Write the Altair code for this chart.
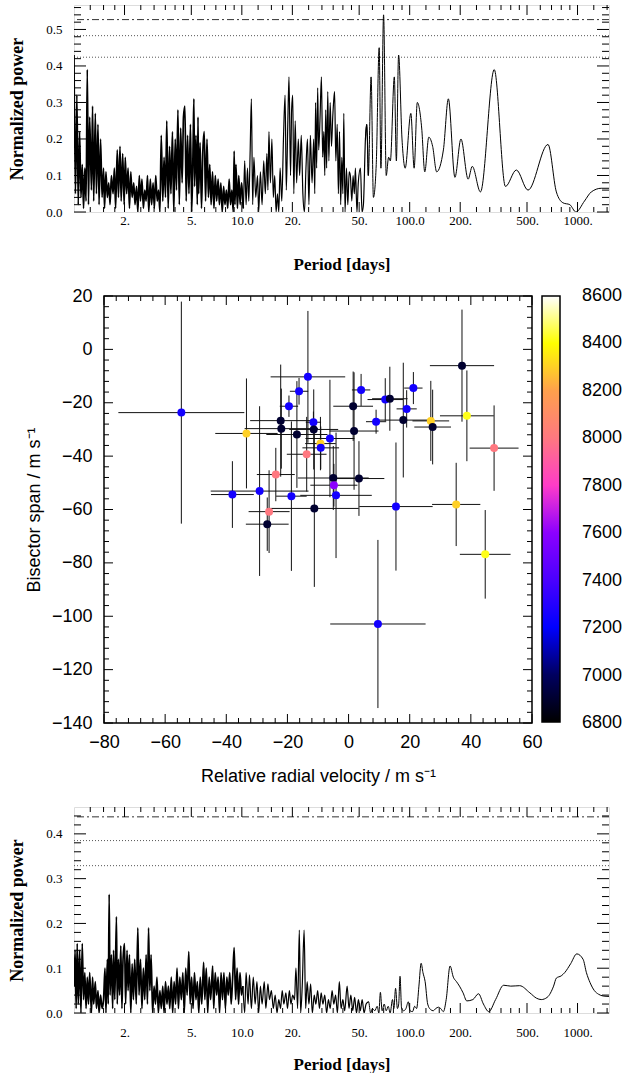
import altair as alt
import pandas as pd

# ---------------- periodogram of the radial velocities (top) ----------------
top_period = [
    1.00, 1.02, 1.04, 1.06, 1.08, 1.10, 1.12, 1.14, 1.16, 1.18, 1.20, 1.22, 1.24, 1.27, 1.29, 1.31,
    1.34, 1.36, 1.39, 1.41, 1.44, 1.47, 1.50, 1.52, 1.55, 1.58, 1.61, 1.64, 1.67, 1.71, 1.74, 1.77,
    1.81, 1.84, 1.88, 1.91, 1.95, 1.99, 2.02, 2.06, 2.10, 2.14, 2.18, 2.22, 2.27, 2.31, 2.36, 2.40,
    2.45, 2.49, 2.54, 2.59, 2.64, 2.69, 2.74, 2.79, 2.85, 2.90, 2.96, 3.01, 3.07, 3.13, 3.19, 3.25,
    3.31, 3.38, 3.44, 3.51, 3.57, 3.64, 3.71, 3.78, 3.86, 3.93, 4.01, 4.08, 4.16, 4.24, 4.32, 4.41,
    4.49, 4.58, 4.66, 4.75, 4.84, 4.94, 5.03, 5.13, 5.18, 5.23, 5.33, 5.43, 5.48, 5.53, 5.64, 5.75,
    5.86, 5.97, 6.08, 6.20, 6.32, 6.44, 6.56, 6.69, 6.82, 6.95, 7.08, 7.22, 7.35, 7.50, 7.64, 7.79,
    7.93, 8.09, 8.24, 8.40, 8.56, 8.72, 8.89, 9.00, 9.10, 9.23, 9.41, 9.59, 9.77, 9.96,
    10.2, 10.4, 10.6, 10.8, 11.0, 11.2, 11.4, 11.6, 11.8, 12.1, 12.4, 12.6, 12.9, 13.2, 13.5, 13.8,
    14.1, 14.3, 14.5, 14.8, 15.1, 15.4, 15.7, 16.0, 16.3, 16.6, 16.9, 17.3, 17.7, 18.1, 18.4, 18.8,
    19.1, 19.5, 19.8, 20.1, 20.4, 20.8, 21.2, 21.7, 22.1, 22.6, 23.1, 23.6, 24.1, 24.6, 25.1, 25.6,
    26.2, 26.8, 27.2, 27.5, 27.9, 28.3, 28.7, 29.2, 29.8, 30.3, 30.8, 31.2, 31.6, 32.0, 32.5, 33.0,
    33.6, 34.2, 34.8, 35.2, 35.7, 36.3, 37.0, 37.6, 38.2, 38.8, 39.4, 40.0, 40.5, 41.2, 42.0, 42.8,
    43.6, 44.3, 45.2, 46.0, 46.8, 47.5, 48.5, 49.4, 50.9, 52.0, 53.0, 54.5, 55.5, 56.7, 58.9, 60.8,
    63.2, 65.8, 67.4, 69.9, 72.5, 74.9, 76.7, 81.0, 83.3, 85.9, 90.0, 94.0, 101.6, 106.3, 111.0, 117.9,
    123.0, 130.0, 137.0, 144.8, 158.8, 170.0, 186.0, 202.0, 223.0, 236.0, 264.0, 319.0, 372.0, 432.0,
    507.0, 667.0, 748.0, 820.0, 900.0, 978.0, 1100.0, 1208.0, 1385.0, 1540.0,
]
top_power = [
    0.43, 0.05, 0.32, 0.02, 0.22, 0.04, 0.13, 0.01, 0.12, 0.03, 0.39, 0.02, 0.26, 0.06, 0.29, 0.03,
    0.27, 0.05, 0.24, 0.02, 0.20, 0.04, 0.12, 0.01, 0.11, 0.04, 0.08, 0.02, 0.10, 0.05, 0.12, 0.01,
    0.17, 0.04, 0.18, 0.03, 0.16, 0.02, 0.15, 0.05, 0.12, 0.01, 0.11, 0.04, 0.08, 0.02, 0.07, 0.00,
    0.10, 0.03, 0.09, 0.01, 0.06, 0.03, 0.10, 0.00, 0.09, 0.02, 0.08, 0.01, 0.10, 0.03, 0.06, 0.00,
    0.21, 0.03, 0.15, 0.04, 0.25, 0.01, 0.18, 0.05, 0.22, 0.00, 0.20, 0.06, 0.28, 0.02, 0.23, 0.08,
    0.26, 0.29, 0.03, 0.21, 0.05, 0.24, 0.00, 0.20, 0.31, 0.07, 0.21, 0.02, 0.26, 0.05, 0.19, 0.01,
    0.17, 0.22, 0.03, 0.20, 0.04, 0.13, 0.02, 0.11, 0.01, 0.10, 0.03, 0.09, 0.02, 0.08, 0.00, 0.07,
    0.02, 0.06, 0.01, 0.09, 0.02, 0.06, 0.00, 0.167, 0.02, 0.13, 0.01, 0.10, 0.02, 0.08,
    0.01, 0.14, 0.02, 0.12, 0.03, 0.16, 0.31, 0.02, 0.15, 0.04, 0.10, 0.00, 0.11, 0.02, 0.14, 0.05,
    0.16, 0.06, 0.22, 0.08, 0.20, 0.04, 0.10, 0.00, 0.05, 0.00, 0.12, 0.03, 0.20, 0.32, 0.06, 0.25,
    0.37, 0.10, 0.28, 0.32, 0.05, 0.25, 0.08, 0.20, 0.10, 0.21, 0.05, 0.00, 0.12, 0.20, 0.02, 0.21,
    0.08, 0.20, 0.05, 0.30, 0.12, 0.34, 0.17, 0.25, 0.37, 0.15, 0.22, 0.10, 0.28, 0.12, 0.33, 0.14,
    0.30, 0.18, 0.26, 0.30, 0.33, 0.14, 0.24, 0.05, 0.22, 0.02, 0.15, 0.05, 0.27, 0.00, 0.12, 0.02,
    0.11, 0.10, 0.03, 0.10, 0.05, 0.12, 0.00, 0.08, 0.12, 0.00, 0.02, 0.20, 0.24, 0.10, 0.37, 0.04,
    0.13, 0.45, 0.12, 0.54, 0.10, 0.15, 0.14, 0.37, 0.14, 0.43, 0.20, 0.12, 0.27, 0.12, 0.30, 0.23,
    0.11, 0.205, 0.18, 0.11, 0.17, 0.31, 0.095, 0.20, 0.09, 0.125, 0.055, 0.39, 0.07, 0.115,
    0.06, 0.185, 0.055, 0.025, 0.02, 0.0, 0.03, 0.055, 0.065, 0.065,
]
top_fap = [0.527, 0.483, 0.424]

# ---------------- periodogram of the bisector spans (bottom) ----------------
bot_period = [
    1.00, 1.015, 1.03, 1.045, 1.06, 1.08, 1.10, 1.12, 1.14, 1.16, 1.18, 1.20, 1.22, 1.24, 1.27, 1.29,
    1.31, 1.34, 1.36, 1.39, 1.41, 1.44, 1.47, 1.50, 1.53, 1.55, 1.58, 1.60, 1.62, 1.64, 1.67, 1.70,
    1.72, 1.75, 1.79, 1.81, 1.84, 1.87, 1.90, 1.93, 1.96, 2.00, 2.03, 2.07, 2.10, 2.14, 2.18, 2.22,
    2.26, 2.30, 2.35, 2.40, 2.44, 2.49, 2.54, 2.59, 2.64, 2.69, 2.74, 2.78, 2.83, 2.88, 2.94, 3.00,
    3.06, 3.12, 3.18, 3.25, 3.31, 3.38, 3.44, 3.51, 3.58, 3.65, 3.72, 3.80, 3.87, 3.95, 4.03, 4.11,
    4.19, 4.27, 4.36, 4.45, 4.54, 4.63, 4.72, 4.83, 4.92, 5.02, 5.12, 5.22, 5.33, 5.43, 5.54, 5.65,
    5.77, 5.92, 6.02, 6.14, 6.26, 6.39, 6.52, 6.70, 6.80, 6.94, 7.08, 7.22, 7.37, 7.52, 7.67, 7.82,
    7.98, 8.14, 8.30, 8.47, 8.64, 8.82, 9.00, 9.18, 9.37, 9.56, 9.75, 9.95,
    10.15, 10.4, 10.6, 10.9, 11.1, 11.4, 11.7, 12.0, 12.3, 12.6, 12.9, 13.2, 13.6, 13.9, 14.3, 14.6,
    15.0, 15.4, 15.8, 16.2, 16.6, 17.0, 17.4, 17.8, 18.3, 18.7, 19.2, 19.6, 20.1, 20.6, 21.0, 21.5,
    22.0, 22.4, 22.9, 23.5, 24.0, 24.5, 25.1, 25.7, 26.3, 27.0, 27.6, 28.3, 29.0, 29.7, 30.4, 31.2,
    32.0, 32.8, 33.6, 34.5, 35.3, 36.2, 37.1, 38.1, 39.0, 40.0, 41.0, 42.4, 43.5, 44.6, 45.8, 47.0,
    48.2, 49.5, 50.8, 52.1, 53.5, 55.0, 56.9, 58.5, 60.0, 62.0, 64.0, 65.5, 66.9, 68.5, 70.5, 72.5,
    74.5, 76.5, 79.0, 80.5, 82.4, 84.5, 86.0, 87.6, 89.5, 92.0, 95.0, 98.1, 100.5, 104.0, 107.0, 110.0,
    113.5, 117.0, 120.0, 123.6, 128.0, 133.0, 138.0, 143.0, 148.4, 153.0, 158.8, 165.0, 174.0, 182.0,
    190.0, 198.0, 208.0, 219.0, 238.0, 257.0, 275.0, 296.0, 325.0, 363.0, 400.0, 452.0, 520.0, 570.0,
    608.0, 660.0, 720.0, 748.0, 800.0, 838.0, 910.0, 990.0, 1079.0, 1130.0, 1187.0, 1260.0, 1333.0,
    1420.0, 1540.0,
]
bot_power = [
    0.06, 0.14, 0.01, 0.155, 0.02, 0.14, 0.00, 0.155, 0.03, 0.09, 0.01, 0.08, 0.02, 0.09, 0.00, 0.08,
    0.02, 0.07, 0.01, 0.05, 0.00, 0.04, 0.01, 0.03, 0.10, 0.00, 0.12, 0.02, 0.265, 0.04, 0.13, 0.01,
    0.14, 0.03, 0.215, 0.02, 0.12, 0.04, 0.15, 0.01, 0.12, 0.155, 0.02, 0.14, 0.05, 0.13, 0.00, 0.11,
    0.03, 0.12, 0.02, 0.19, 0.04, 0.12, 0.01, 0.10, 0.03, 0.13, 0.02, 0.19, 0.05, 0.13, 0.00, 0.06,
    0.02, 0.08, 0.00, 0.05, 0.01, 0.06, 0.00, 0.07, 0.02, 0.06, 0.01, 0.08, 0.00, 0.07, 0.02, 0.10,
    0.01, 0.08, 0.03, 0.09, 0.00, 0.10, 0.04, 0.137, 0.02, 0.08, 0.01, 0.09, 0.03, 0.07, 0.00, 0.08,
    0.02, 0.113, 0.03, 0.10, 0.00, 0.08, 0.03, 0.105, 0.01, 0.09, 0.04, 0.08, 0.00, 0.09, 0.03, 0.09,
    0.01, 0.08, 0.04, 0.09, 0.02, 0.08, 0.146, 0.03, 0.10, 0.02, 0.09, 0.04,
    0.06, 0.00, 0.09, 0.02, 0.085, 0.01, 0.08, 0.02, 0.07, 0.00, 0.06, 0.02, 0.07, 0.01, 0.065, 0.03,
    0.05, 0.01, 0.04, 0.00, 0.03, 0.01, 0.05, 0.02, 0.045, 0.01, 0.05, 0.02, 0.04, 0.03, 0.10, 0.01,
    0.185, 0.00, 0.06, 0.185, 0.01, 0.07, 0.02, 0.065, 0.00, 0.04, 0.02, 0.05, 0.01, 0.045, 0.02, 0.04,
    0.00, 0.03, 0.01, 0.05, 0.02, 0.04, 0.00, 0.07, 0.01, 0.03, 0.005, 0.06, 0.01, 0.04, 0.005, 0.035,
    0.00, 0.03, 0.005, 0.03, 0.00, 0.02, 0.025, 0.00, 0.01, 0.005, 0.015, 0.00, 0.046, 0.005, 0.02, 0.005,
    0.015, 0.00, 0.03, 0.01, 0.055, 0.01, 0.02, 0.082, 0.01, 0.005, 0.01, 0.025, 0.005, 0.003, 0.015, 0.01,
    0.06, 0.111, 0.09, 0.07, 0.02, 0.008, 0.005, 0.01, 0.013, 0.01, 0.003, 0.03, 0.105, 0.08,
    0.07, 0.06, 0.045, 0.027, 0.03, 0.043, 0.02, 0.003, 0.03, 0.062, 0.06, 0.061, 0.045, 0.033,
    0.03, 0.035, 0.06, 0.078, 0.083, 0.09, 0.11, 0.132, 0.12, 0.09, 0.068, 0.05, 0.042,
    0.038, 0.037,
]
bot_fap = [0.438, 0.385, 0.329]

# ---------------- bisector span vs radial velocity (middle) ----------------
rv = [-54.7, -38.0, -33.4, -29.1, -26.0, -26.6, -23.8, -22.2, -22.0, -19.5, -18.7, -16.9, -16.2,
      -13.7, -13.3, -11.5, -11.4, -11.2, -9.2, -9.1, -6.1, -5.0, -4.8, -4.1, 1.5, 1.8, 3.4, 4.1,
      9.0, 9.6, 12.0, 13.5, 15.5, 17.9, 19.0, 21.2, 26.9, 27.5, 35.2, 37.1, 38.7, 44.7, 47.6]
rv_err = [20.6, 7.0, 10.2, 16.0, 6.7, 7.0, 6.2, 10.0, 12.0, 3.0, 5.0, 10.0, 3.0,
          6.5, 12.2, 2.5, 8.0, 14.5, 5.0, 6.0, 8.0, 11.6, 7.7, 11.7, 6.5, 8.0, 8.3, 3.0,
          3.3, 15.6, 5.8, 5.8, 12.0, 9.0, 3.3, 3.0, 6.0, 6.0, 7.9, 10.5, 8.8, 8.3, 8.0]
bis = [-23.7, -54.4, -31.5, -53.1, -60.8, -65.5, -46.9, -26.7, -29.7, -21.3, -55.0, -31.9, -15.7,
       -39.3, -10.3, -27.3, -30.0, -59.6, -35.3, -36.9, -33.4, -48.2, -50.9, -54.7, -21.3, -30.6,
       -48.4, -15.2, -27.1, -102.9, -18.8, -18.5, -58.9, -26.5, -22.3, -14.5, -26.8, -29.1, -58.1,
       -6.1, -24.9, -76.8, -37.0]
bis_err = [41.6, 12.5, 20.6, 31.8, 15.5, 10.0, 10.0, 21.0, 15.0, 4.0, 28.0, 20.0, 5.0,
           14.0, 24.7, 4.0, 15.0, 29.4, 10.0, 8.0, 22.0, 12.0, 8.0, 23.5, 13.0, 22.0,
           14.0, 6.0, 4.5, 31.5, 8.0, 12.0, 24.0, 21.5, 7.0, 6.0, 15.0, 14.0, 15.6,
           21.0, 17.0, 16.6, 16.0]
teff = [7250, 7250, 8300, 7250, 8000, 6900, 8000, 6900, 6900, 7250, 7250, 6900, 7250,
        8000, 7250, 7250, 6900, 6900, 8300, 7250, 7250, 6900, 7600, 7250, 6900, 6900,
        6900, 7250, 7250, 7250, 7250, 6900, 7250, 6900, 7250, 7250, 8300, 6900, 8300,
        6900, 8420, 8420, 8000]

# colour bar of the effective temperature
cb_stops = [6800, 7000, 7200, 7400, 7600, 7800, 8000, 8200, 8400, 8600]
cb_colors = ["#000000", "#000060", "#0000ff", "#4a00ff", "#8c00ff", "#ff3cc8",
             "#ff7880", "#ffa04c", "#ffff00", "#ffffff"]

# tick values
period_labels = [2, 5, 10, 20, 50, 100, 200, 500, 1000]
period_minor = [1.25, 1.5, 1.75, 2.5, 3, 3.5, 4, 4.5, 6, 7, 8, 9, 12.5, 15, 17.5, 25, 30, 35, 40,
                45, 60, 70, 80, 90, 125, 150, 175, 250, 300, 350, 400, 450, 600, 700, 800, 900,
                1250, 1500]
power_major_top = [0.0, 0.1, 0.2, 0.3, 0.4, 0.5]
power_minor_top = [0.02, 0.04, 0.06, 0.08, 0.12, 0.14, 0.16, 0.18, 0.22, 0.24, 0.26, 0.28, 0.32,
                   0.34, 0.36, 0.38, 0.42, 0.44, 0.46, 0.48, 0.52, 0.54, 0.56]
power_major_bot = [0.0, 0.1, 0.2, 0.3, 0.4]
power_minor_bot = [0.02, 0.04, 0.06, 0.08, 0.12, 0.14, 0.16, 0.18, 0.22, 0.24, 0.26, 0.28, 0.32,
                   0.34, 0.36, 0.38, 0.42, 0.44]
rv_major = [-80, -60, -40, -20, 0, 20, 40, 60]
rv_minor = [-76, -72, -68, -64, -56, -52, -48, -44, -36, -32, -28, -24, -16, -12, -8, -4,
            4, 8, 12, 16, 24, 28, 32, 36, 44, 48, 52, 56]
bis_major = [-140, -120, -100, -80, -60, -40, -20, 0, 20]
bis_minor = [-136, -132, -128, -124, -116, -112, -108, -104, -96, -92, -88, -84, -76, -72, -68,
             -64, -56, -52, -48, -44, -36, -32, -28, -24, -16, -12, -8, -4, 4, 8, 12, 16]

SERIF = "Liberation Serif"
SANS = "Liberation Sans"
WP, HT, HB = 535, 207, 206
SHIFT = 30                      # middle panel starts 30 px right of the periodograms
WM, HM = 428, 427
WMT = WM + SHIFT


def edge_ticks(values, scale, axis, side, length, x0, x1, H):
    df = pd.DataFrame({"t": values})
    base = alt.Chart(df).mark_rule(color="black", strokeWidth=1)
    if side in ("left", "right"):
        y = alt.Y("t:Q", scale=scale, axis=axis)
        if side == "left":
            return base.encode(y=y, x=alt.value(x0), x2=alt.value(x0 + length))
        return base.encode(y=y, x=alt.value(x1 - length), x2=alt.value(x1))
    x = alt.X("t:Q", scale=scale, axis=axis)
    if side == "top":
        return base.encode(x=x, y=alt.value(0), y2=alt.value(length))
    return base.encode(x=x, y=alt.value(H - length), y2=alt.value(H))


def periodogram(period, power, fap, ymax, H, pmajor, pminor, lab_pad, tit_pad):
    xs = alt.Scale(type="log", domain=[1.0, 1540], nice=False)
    ys = alt.Scale(domain=[0, ymax], nice=False, zero=False)
    ax = alt.Axis(
        values=period_labels,
        labelExpr="datum.value == 10 ? '10.0' : datum.value == 100 ? '100.0' : datum.value + '.'",
        title="Period [days]", ticks=False, domain=False, grid=False, labelFlush=False,
        labelFont=SERIF, labelFontSize=13, labelColor="black", labelPadding=lab_pad,
        titleFont=SERIF, titleFontSize=17, titleFontWeight="bold", titleColor="black",
        titlePadding=tit_pad)
    ay = alt.Axis(
        values=pmajor, format=".1f", title="Normalized power", ticks=False, domain=False,
        grid=False, labelFlush=False, labelFont=SERIF, labelFontSize=13, labelColor="black",
        labelPadding=12, titleFont=SERIF, titleFontSize=18, titleFontWeight="bold",
        titleColor="black", titlePadding=19)
    df = pd.DataFrame({"period": period, "power": power})
    enc = dict(x=alt.X("period:Q", scale=xs, axis=ax), y=alt.Y("power:Q", scale=ys, axis=ay))
    dense = alt.Chart(df).transform_filter("datum.period <= 10.2").mark_line(
        color="black", strokeWidth=1.7, interpolate="monotone", clip=True).encode(**enc)
    mid = alt.Chart(df).transform_filter("datum.period >= 9.96 && datum.period <= 58").mark_line(
        color="black", strokeWidth=1.2, interpolate="monotone", clip=True).encode(**enc)
    smooth = alt.Chart(df).transform_filter("datum.period >= 54").mark_line(
        color="black", strokeWidth=1, interpolate="monotone", clip=True).encode(**enc)
    fap_dash = alt.Chart(pd.DataFrame({"lvl": fap[:1]})).mark_rule(
        color="#333333", strokeWidth=1, strokeDash=[7, 3, 2, 3]).encode(
        y=alt.Y("lvl:Q", scale=ys, axis=ay))
    fap_dot = alt.Chart(pd.DataFrame({"lvl": fap[1:]})).mark_rule(
        color="#555555", strokeWidth=1, strokeDash=[1, 2]).encode(
        y=alt.Y("lvl:Q", scale=ys, axis=ay))
    ticks = [
        edge_ticks(pmajor, ys, ay, "left", 12, 0, WP, H),
        edge_ticks(pminor, ys, ay, "left", 7, 0, WP, H),
        edge_ticks(pmajor, ys, ay, "right", 12, 0, WP, H),
        edge_ticks(pminor, ys, ay, "right", 7, 0, WP, H),
        edge_ticks(period_labels, xs, ax, "top", 10, 0, WP, H),
        edge_ticks(period_minor, xs, ax, "top", 5, 0, WP, H),
        edge_ticks(period_labels, xs, ax, "bottom", 10, 0, WP, H),
        edge_ticks(period_minor, xs, ax, "bottom", 5, 0, WP, H),
    ]
    return alt.layer(fap_dash, fap_dot, dense, mid, smooth, *ticks).properties(width=WP, height=H)


top = periodogram(top_period, top_power, top_fap, 0.567, HT, power_major_top, power_minor_top,
                  2, 29)
bottom = periodogram(bot_period, bot_power, bot_fap, 0.46, HB, power_major_bot, power_minor_bot,
                     13, 17)

# ---------------- scatter ----------------
sdf = pd.DataFrame({"rv": rv, "rv_err": rv_err, "bis": bis, "bis_err": bis_err, "teff": teff})
xs_m = alt.Scale(domain=[-80, 60], range=[SHIFT, WMT], nice=False, zero=False)
ys_m = alt.Scale(domain=[-140, 20], nice=False, zero=False)
ax_m = alt.Axis(values=rv_major, title="Relative radial velocity / m s⁻¹", ticks=False,
                domain=False, grid=False, labelFlush=False, labelFont=SANS, labelFontSize=18,
                labelColor="black", labelPadding=10, titleFont=SANS, titleFontSize=18,
                titleFontWeight="normal", titleColor="black", titlePadding=16,
                titleX=SHIFT + WM / 2)
ay_m = alt.Axis(values=bis_major, title="Bisector span / m s⁻¹", ticks=False, domain=False,
                grid=False, labelFlush=False, offset=-SHIFT, labelFont=SANS, labelFontSize=18,
                labelColor="black", labelPadding=12, titleFont=SANS, titleFontSize=18,
                titleFontWeight="normal", titleColor="black", titlePadding=8)

base = alt.Chart(sdf).transform_calculate(
    xlo="datum.rv - datum.rv_err", xhi="datum.rv + datum.rv_err",
    ylo="datum.bis - datum.bis_err", yhi="datum.bis + datum.bis_err")

xerr = base.mark_rule(color="#111111", strokeWidth=1).encode(
    x=alt.X("xlo:Q", scale=xs_m, axis=ax_m), x2="xhi:Q",
    y=alt.Y("bis:Q", scale=ys_m, axis=ay_m),
)
yerr = base.mark_rule(color="#111111", strokeWidth=1).encode(
    x=alt.X("rv:Q", scale=xs_m, axis=ax_m),
    y=alt.Y("ylo:Q", scale=ys_m, axis=ay_m), y2="yhi:Q",
)
pts = base.mark_circle(size=64, opacity=1).encode(
    x=alt.X("rv:Q", scale=xs_m, axis=ax_m),
    y=alt.Y("bis:Q", scale=ys_m, axis=ay_m),
    color=alt.Color("teff:Q", scale=alt.Scale(domain=cb_stops, range=cb_colors, clamp=True,
                                              interpolate="rgb"),
                    legend=alt.Legend(
                        title=None, orient="right", offset=10, direction="vertical",
                        gradientLength=HM - 1, gradientThickness=18, values=cb_stops,
                        labelExpr="''", labelFontSize=1,
                        gradientStrokeColor="black", gradientStrokeWidth=1.5)),
)
frame = alt.Chart(pd.DataFrame({"a": [0]})).mark_rect(
    fillOpacity=0, stroke="black", strokeWidth=1.5).encode(
    x=alt.value(SHIFT), x2=alt.value(WMT), y=alt.value(0), y2=alt.value(HM))

# colour-bar labels and ticks, placed through the bisector-span scale
cb_df = pd.DataFrame({"temp": cb_stops})
cb_base = alt.Chart(cb_df).transform_calculate(
    pos="-140 + (datum.temp - 6800) * 160 / 1800", lab="'' + datum.temp")
cb_labels = cb_base.mark_text(font=SANS, fontSize=18, color="black", align="center",
                              baseline="middle").encode(
    y=alt.Y("pos:Q", scale=ys_m, axis=ay_m), x=alt.value(WMT + 70), text="lab:N")
cb_inner = cb_base.transform_filter("datum.temp > 6800 && datum.temp < 8600")
cb_tl = cb_inner.mark_rule(color="#333333", strokeWidth=1.5).encode(
    y=alt.Y("pos:Q", scale=ys_m, axis=ay_m), x=alt.value(WMT + 10), x2=alt.value(WMT + 16))
cb_tr = cb_inner.mark_rule(color="#333333", strokeWidth=1.5).encode(
    y=alt.Y("pos:Q", scale=ys_m, axis=ay_m), x=alt.value(WMT + 22), x2=alt.value(WMT + 28))

mticks = [
    edge_ticks(bis_major, ys_m, ay_m, "left", 9, SHIFT, WMT, HM),
    edge_ticks(bis_minor, ys_m, ay_m, "left", 5, SHIFT, WMT, HM),
    edge_ticks(bis_major, ys_m, ay_m, "right", 9, SHIFT, WMT, HM),
    edge_ticks(bis_minor, ys_m, ay_m, "right", 5, SHIFT, WMT, HM),
    edge_ticks(rv_major, xs_m, ax_m, "top", 9, SHIFT, WMT, HM),
    edge_ticks(rv_minor, xs_m, ax_m, "top", 5, SHIFT, WMT, HM),
    edge_ticks(rv_major, xs_m, ax_m, "bottom", 9, SHIFT, WMT, HM),
    edge_ticks(rv_minor, xs_m, ax_m, "bottom", 5, SHIFT, WMT, HM),
]
middle = alt.layer(xerr, yerr, pts, frame, cb_labels, cb_tl, cb_tr, *mticks).properties(
    width=WMT, height=HM, view=alt.ViewBackground(strokeOpacity=0))

chart = alt.vconcat(top, middle, bottom, spacing=84, bounds="flush").resolve_scale(
    color="independent").properties(
    padding={"left": 8, "top": 4, "right": 0, "bottom": 0}
).configure_view(stroke="black", strokeWidth=1.5).configure(background="white")

chart.save("out.html", embed_options={"renderer": "svg", "actions": False})
